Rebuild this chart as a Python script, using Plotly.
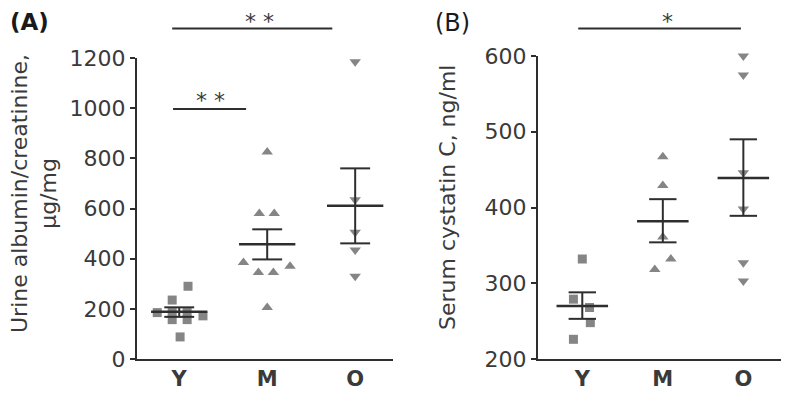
import plotly.graph_objects as go

categories = ["Y", "M", "O"]

# Panel A: urine albumin/creatinine (µg/mg)
a_Y = [290, 235, 185, 185, 185, 172, 157, 157, 88]
a_Y_jit = [0.10, -0.08, -0.25, -0.08, 0.09, 0.27, -0.08, 0.09, 0.01]
a_M = [825, 580, 580, 385, 370, 345, 345, 205]
a_M_jit = [0.0, -0.09, 0.08, -0.27, 0.26, -0.10, 0.07, 0.0]
a_O = [1185, 635, 505, 435, 330]
a_O_jit = [0, 0, 0, 0, 0]
a_mean = [188, 457, 611]
a_sem_hi = [206, 517, 760]
a_sem_lo = [168, 397, 461]

# Panel B: serum cystatin C (ng/ml)
b_Y = [332, 279, 268, 248, 226]
b_Y_jit = [0.0, -0.11, 0.09, 0.10, -0.11]
b_M = [467, 429, 361, 332, 318]
b_M_jit = [0.0, 0.0, 0.0, 0.10, -0.10]
b_O = [600, 575, 446, 398, 327, 303]
b_O_jit = [0, 0, 0, 0, 0, 0]
b_mean = [270, 382, 439]
b_sem_hi = [288, 411, 490]
b_sem_lo = [253, 354, 389]

OFF = 8  # default page body margin
W, H = 789 - OFF, 400 - OFF
FONT = "DejaVu Sans"
TXT = "#3a3a3a"
MK = "#858585"
LN = "#2e2e2e"

fig = go.Figure()

def px(v):
    return (v - OFF) / W

def py(v):
    return (H - (v - OFF)) / H

def add_panel(xa, ya, groups, mean, hi, lo):
    symbols = ["square", "triangle-up", "triangle-down"]
    sizes = [9, 10, 10]
    for i, (vals, jit) in enumerate(groups):
        fig.add_trace(go.Scatter(
            x=[i + j for j in jit], y=vals, mode="markers",
            marker=dict(symbol=symbols[i], size=sizes[i], color=MK),
            xaxis=xa, yaxis=ya, showlegend=False, cliponaxis=False))
    xs, ys = [], []
    for i in range(3):
        xs += [i, i, None]; ys += [lo[i], hi[i], None]
        xs += [i - 0.17, i + 0.17, None]; ys += [hi[i], hi[i], None]
        xs += [i - 0.17, i + 0.17, None]; ys += [lo[i], lo[i], None]
    fig.add_trace(go.Scatter(x=xs, y=ys, mode="lines",
                             line=dict(color=LN, width=2),
                             xaxis=xa, yaxis=ya, showlegend=False, cliponaxis=False))
    xs, ys = [], []
    for i in range(3):
        xs += [i - 0.32, i + 0.32, None]; ys += [mean[i], mean[i], None]
    fig.add_trace(go.Scatter(x=xs, y=ys, mode="lines",
                             line=dict(color=LN, width=2.5),
                             xaxis=xa, yaxis=ya, showlegend=False, cliponaxis=False))

add_panel("x", "y", [(a_Y, a_Y_jit), (a_M, a_M_jit), (a_O, a_O_jit)], a_mean, a_sem_hi, a_sem_lo)
add_panel("x2", "y2", [(b_Y, b_Y_jit), (b_M, b_M_jit), (b_O, b_O_jit)], b_mean, b_sem_hi, b_sem_lo)

axis_common = dict(showgrid=False, zeroline=False, showline=True, linecolor=LN, linewidth=2,
                   automargin=False)
xa_common = dict(axis_common, tickmode="array", tickvals=[0, 1, 2], ticktext=categories,
                 ticks="", tickfont=dict(family=FONT, size=21, color=TXT, weight="bold"))
ya_common = dict(axis_common, ticks="outside", ticklen=5, tickwidth=2, tickcolor=LN,
                 tickfont=dict(family=FONT, size=22, color=TXT))

fig.update_layout(
    template="none",
    width=W, height=H,
    margin=dict(l=0, r=0, t=0, b=0, pad=0, autoexpand=False),
    paper_bgcolor="white", plot_bgcolor="white",
    font=dict(family=FONT, color=TXT),
    xaxis=dict(xa_common, domain=[px(137), px(393)], range=[-0.48, 2.43], anchor="y"),
    yaxis=dict(ya_common, domain=[py(359), py(58)], range=[0, 1200], dtick=200, anchor="x"),
    xaxis2=dict(xa_common, domain=[px(538), px(782)], range=[-0.55, 2.48], anchor="y2"),
    yaxis2=dict(ya_common, domain=[py(359), py(56)], range=[200, 600], dtick=100, anchor="x2"),
)

shapes = [
    dict(type="line", xref="x", yref="paper", x0=-0.08, x1=1.74, y0=py(28.5), y1=py(28.5),
         line=dict(color=LN, width=2)),
    dict(type="line", xref="x", yref="y", x0=-0.07, x1=0.76, y0=997, y1=997,
         line=dict(color=LN, width=2)),
    dict(type="line", xref="x2", yref="paper", x0=-0.05, x1=1.97, y0=py(28.5), y1=py(28.5),
         line=dict(color=LN, width=2)),
]
fig.update_layout(shapes=shapes)

ann = [
    dict(text="* *", xref="x", yref="paper", x=0.91, y=py(21), xanchor="center", yanchor="middle",
         showarrow=False, font=dict(family=FONT, size=22, color=TXT)),
    dict(text="* *", xref="x", yref="paper", x=0.36, y=py(100), xanchor="center", yanchor="middle",
         showarrow=False, font=dict(family=FONT, size=22, color=TXT)),
    dict(text="*", xref="x2", yref="paper", x=1.06, y=py(21), xanchor="center", yanchor="middle",
         showarrow=False, font=dict(family=FONT, size=22, color=TXT)),
    dict(text="<b>(A)</b>", xref="paper", yref="paper", x=px(8), y=py(22), xanchor="left",
         yanchor="middle", showarrow=False, font=dict(family=FONT, size=23, color="#1a1a1a")),
    dict(text="(B)", xref="paper", yref="paper", x=px(433), y=py(23), xanchor="left",
         yanchor="middle", showarrow=False, font=dict(family=FONT, size=24, color="#1a1a1a")),
    dict(text="Urine albumin/creatinine,<br>μg/mg", xref="paper", yref="paper",
         x=px(34), y=py(194), xanchor="center", yanchor="middle", textangle=-90, showarrow=False,
         font=dict(family=FONT, size=22, color=TXT)),
    dict(text="Serum cystatin C, ng/ml", xref="paper", yref="paper",
         x=px(447), y=py(198), xanchor="center", yanchor="middle", textangle=-90, showarrow=False,
         font=dict(family=FONT, size=22, color=TXT)),
]
fig.update_layout(annotations=ann)

fig.write_html("out.html")
